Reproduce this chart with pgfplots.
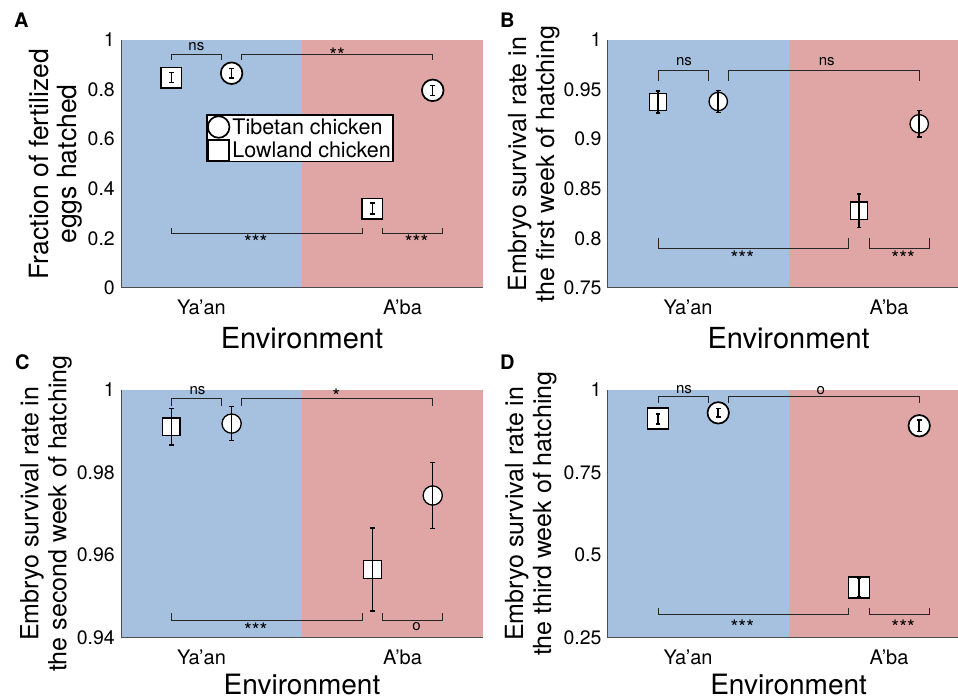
\documentclass[border=0pt]{standalone}
\usepackage{pgfplots}
\pgfplotsset{compat=1.18}
\usepackage{fontspec}
\setmainfont{TeX Gyre Heros}
\definecolor{bluebg}{RGB}{166,193,223}
\definecolor{redbg}{RGB}{224,166,165}
\definecolor{axisgray}{RGB}{77,77,77}
\tikzset{
 sigstar/.style={font=\fontsize{20}{20}\selectfont, anchor=base, inner sep=0pt, yshift=-11.5pt},
 sigtext/.style={font=\fontsize{15}{15}\selectfont, anchor=base, inner sep=0pt, yshift=-3.9pt},
}
\pgfplotsset{
 panel/.style={
  scale only axis, axis on top, clip=false, clip marker paths=true,
  xmin=0.6, height=248pt,
  axis x line*=bottom, axis y line*=left,
  axis line style={draw=axisgray, line width=1pt},
  major tick length=0pt,
  xtick={1,2}, xticklabels={Ya’an,A’ba},
  xticklabel style={font=\fontsize{20}{20}\selectfont, inner sep=0pt, anchor=north, yshift=-12pt},
  yticklabel style={font=\fontsize{19.5}{19.5}\selectfont, inner sep=0pt, anchor=east, xshift=-6pt},
  /pgf/number format/assume math mode=true,
  /pgf/number format/fixed,
  xlabel=Environment,
  xlabel style={font=\fontsize{29}{29}\selectfont, inner sep=0pt, anchor=north},
  ylabel style={font=\fontsize{25}{28}\selectfont, align=center, inner sep=0pt, anchor=south},
 },
 bracket/.style={forget plot, black!85, line width=0.9pt, mark=none},
 lowland/.style 2 args={forget plot, only marks, mark=square*, mark size=#1, mark options={fill=white, draw=black, solid, line width=#2}},
 tibetan/.style 2 args={forget plot, only marks, mark=*, mark size=#1, mark options={fill=white, draw=black, solid, line width=#2}},
 ebar/.style={forget plot, draw=none, mark=none, error bars/.cd, y dir=both, y explicit,
   error bar style={draw=black, line width=1.5pt, solid}, error mark options={draw=black, rotate=90, mark size=2.3pt, line width=1.5pt, solid}},
}
\begin{document}
\begin{tikzpicture}
\useasboundingbox (0pt,0pt) rectangle (958pt,699pt);
% ---------------- Panel A ----------------
\begin{axis}[panel, at={(121pt,411pt)}, anchor=south west, width=362pt, xmax=2.4,
  ymin=0, ymax=1, ytick={0,0.2,0.4,0.6,0.8,1},
  ylabel={Fraction of fertilized\\eggs hatched},
  ylabel style={at={(axis description cs:-0.1077,0.5)}, font=\fontsize{26.5}{28}\selectfont},
  xlabel style={at={(axis description cs:0.5,0)}, yshift=-39pt},
  legend style={at={(axis cs:1.023,0.70)}, anchor=north west, draw=black, line width=1.6pt, fill=white,
    font=\fontsize{21.5}{22}\selectfont, inner sep=1pt, row sep=2.5pt, column sep=2pt, cells={anchor=west}, nodes={inner sep=1pt}},
  ]
\addplot[forget plot, fill=bluebg, draw=none] coordinates {(0.6,0)(1.5,0)(1.5,1)(0.6,1)};
\addplot[forget plot, fill=redbg, draw=none] coordinates {(1.5,0)(2.4,0)(2.4,1)(1.5,1)};
\addplot[bracket] coordinates {(0.85,0.92)(0.85,0.94)(1.1,0.94)(1.1,0.92)};
\addplot[bracket] coordinates {(1.2,0.92)(1.2,0.94)(2.15,0.94)(2.15,0.92)};
\addplot[bracket] coordinates {(0.85,0.24)(0.85,0.22)(1.8,0.22)(1.8,0.24)};
\addplot[bracket] coordinates {(1.9,0.24)(1.9,0.22)(2.2,0.22)(2.2,0.24)};
\node[sigtext] at (axis cs:0.975,0.973) {ns};
\node[sigstar] at (axis cs:1.675,0.957) {**};
\node[sigstar] at (axis cs:1.27,0.2016) {***};
\node[sigstar] at (axis cs:2.07,0.2016) {***};
\addplot[lowland={10.2pt}{1.7pt}] coordinates {(0.85,0.848)(1.85,0.32)};
\addplot[tibetan={10.8pt}{1.7pt}] coordinates {(1.15,0.866)(2.15,0.797)};
\addplot[ebar] coordinates {(0.85,0.848) +- (0,0.02) (1.85,0.32) +- (0,0.022) (1.15,0.866) +- (0,0.019) (2.15,0.797) +- (0,0.02)};
\addlegendimage{legend image code/.code={\draw[mark=*, mark size=10.8pt, mark options={fill=white, draw=black, line width=1.7pt}] plot coordinates {(11pt,0pt)};}}
\addlegendentry{Tibetan chicken}
\addlegendimage{legend image code/.code={\draw[mark=square*, mark size=10.2pt, mark options={fill=white, draw=black, line width=1.7pt}] plot coordinates {(11pt,0pt)};}}
\addlegendentry{Lowland chicken}
\end{axis}
% ---------------- Panel B ----------------
\begin{axis}[panel, at={(607.7pt,411pt)}, anchor=south west, width=350.3pt, xmax=2.343,
  ymin=0.75, ymax=1, ytick={0.75,0.8,0.85,0.9,0.95,1},
  ylabel={Embryo survival rate in\\the first week of hatching},
  ylabel style={at={(axis description cs:-0.137,0.5)}},
  xlabel style={at={(axis description cs:0.5164,0)}, yshift=-39pt},
  ]
\addplot[forget plot, fill=bluebg, draw=none] coordinates {(0.6,0.75)(1.5,0.75)(1.5,1)(0.6,1)};
\addplot[forget plot, fill=redbg, draw=none] coordinates {(1.5,0.75)(2.343,0.75)(2.343,1)(1.5,1)};
\addplot[bracket] coordinates {(0.85,0.959)(0.85,0.969)(1.1,0.969)(1.1,0.959)};
\addplot[bracket] coordinates {(1.2,0.959)(1.2,0.969)(2.15,0.969)(2.15,0.959)};
\addplot[bracket] coordinates {(0.85,0.80)(0.85,0.7897)(1.8,0.7897)(1.8,0.80)};
\addplot[bracket] coordinates {(1.9,0.80)(1.9,0.7897)(2.2,0.7897)(2.2,0.80)};
\node[sigtext] at (axis cs:0.98,0.9785) {ns};
\node[sigtext] at (axis cs:1.69,0.9785) {ns};
\node[sigstar] at (axis cs:1.27,0.784) {***};
\node[sigstar] at (axis cs:2.07,0.784) {***};
\addplot[lowland={8.6pt}{1.3pt}] coordinates {(0.85,0.9375)(1.85,0.828)};
\addplot[tibetan={9.2pt}{1.3pt}] coordinates {(1.15,0.938)(2.15,0.9155)};
\addplot[ebar] coordinates {(0.85,0.9375) +- (0,0.011) (1.85,0.828) +- (0,0.017) (1.15,0.938) +- (0,0.011) (2.15,0.9155) +- (0,0.0134)};
\end{axis}
% ---------------- Panel C ----------------
\begin{axis}[panel, at={(121pt,61.3pt)}, anchor=south west, width=362pt, xmax=2.4,
  ymin=0.94, ymax=1, ytick={0.94,0.96,0.98,1},
  ylabel={Embryo survival rate in\\the second week of hatching},
  ylabel style={at={(axis description cs:-0.1354,0.5)}},
  xlabel style={at={(axis description cs:0.5,0)}, yshift=-36pt, font=\fontsize{28}{28}\selectfont},
  ]
\addplot[forget plot, fill=bluebg, draw=none] coordinates {(0.6,0.94)(1.5,0.94)(1.5,1)(0.6,1)};
\addplot[forget plot, fill=redbg, draw=none] coordinates {(1.5,0.94)(2.4,0.94)(2.4,1)(1.5,1)};
\addplot[bracket] coordinates {(0.85,0.996)(0.85,0.9978)(1.1,0.9978)(1.1,0.996)};
\addplot[bracket] coordinates {(1.2,0.996)(1.2,0.9978)(2.15,0.9978)(2.15,0.996)};
\addplot[bracket] coordinates {(0.85,0.9459)(0.85,0.9441)(1.8,0.9441)(1.8,0.9459)};
\addplot[bracket] coordinates {(1.9,0.9459)(1.9,0.9441)(2.2,0.9441)(2.2,0.9459)};
\node[sigtext] at (axis cs:0.98,0.9997) {ns};
\node[sigstar] at (axis cs:1.67,0.9994) {*};
\node[sigstar] at (axis cs:1.27,0.9428) {***};
\node[sigtext] at (axis cs:2.07,0.9427) {o};
\addplot[lowland={8.8pt}{1.3pt}] coordinates {(0.85,0.991)(1.85,0.9565)};
\addplot[tibetan={9.6pt}{1.3pt}] coordinates {(1.15,0.9918)(2.15,0.9744)};
\addplot[ebar] coordinates {(0.85,0.991) +- (0,0.0044) (1.85,0.9565) +- (0,0.010) (1.15,0.9918) +- (0,0.0041) (2.15,0.9744) +- (0,0.008)};
\end{axis}
% ---------------- Panel D ----------------
\begin{axis}[panel, at={(607.7pt,61.3pt)}, anchor=south west, width=350.3pt, xmax=2.343,
  ymin=0.25, ymax=1, ytick={0.25,0.5,0.75,1},
  ylabel={Embryo survival rate in\\the third week of hatching},
  ylabel style={at={(axis description cs:-0.1456,0.5)}},
  xlabel style={at={(axis description cs:0.5164,0)}, yshift=-36pt, font=\fontsize{28}{28}\selectfont},
  ]
\addplot[forget plot, fill=bluebg, draw=none] coordinates {(0.6,0.25)(1.5,0.25)(1.5,1)(0.6,1)};
\addplot[forget plot, fill=redbg, draw=none] coordinates {(1.5,0.25)(2.343,0.25)(2.343,1)(1.5,1)};
\addplot[bracket] coordinates {(0.85,0.96)(0.85,0.98)(1.1,0.98)(1.1,0.96)};
\addplot[bracket] coordinates {(1.2,0.96)(1.2,0.98)(2.15,0.98)(2.15,0.96)};
\addplot[bracket] coordinates {(0.85,0.3406)(0.85,0.3205)(1.8,0.3205)(1.8,0.3406)};
\addplot[bracket] coordinates {(1.9,0.3406)(1.9,0.3205)(2.2,0.3205)(2.2,0.3406)};
\node[sigtext] at (axis cs:0.98,1.0) {ns};
\node[sigtext] at (axis cs:1.66,0.998) {o};
\node[sigstar] at (axis cs:1.27,0.2934) {***};
\node[sigstar] at (axis cs:2.07,0.2934) {***};
\addplot[lowland={10.5pt}{1.7pt}] coordinates {(0.85,0.912)(1.85,0.402)};
\addplot[tibetan={10.7pt}{1.7pt}] coordinates {(1.15,0.93)(2.15,0.891)};
\addplot[ebar] coordinates {(0.85,0.912) +- (0,0.015) (1.85,0.402) +- (0,0.029) (1.15,0.93) +- (0,0.013) (2.15,0.891) +- (0,0.018)};
\end{axis}
% panel letters
\node[font=\bfseries\fontsize{20}{20}\selectfont, anchor=base west, inner sep=0pt] at (14pt,671pt) {A};
\node[font=\bfseries\fontsize{20}{20}\selectfont, anchor=base west, inner sep=0pt] at (500pt,671pt) {B};
\node[font=\bfseries\fontsize{20}{20}\selectfont, anchor=base west, inner sep=0pt] at (15pt,329pt) {C};
\node[font=\bfseries\fontsize{20}{20}\selectfont, anchor=base west, inner sep=0pt] at (500pt,329pt) {D};
\end{tikzpicture}
\end{document}
